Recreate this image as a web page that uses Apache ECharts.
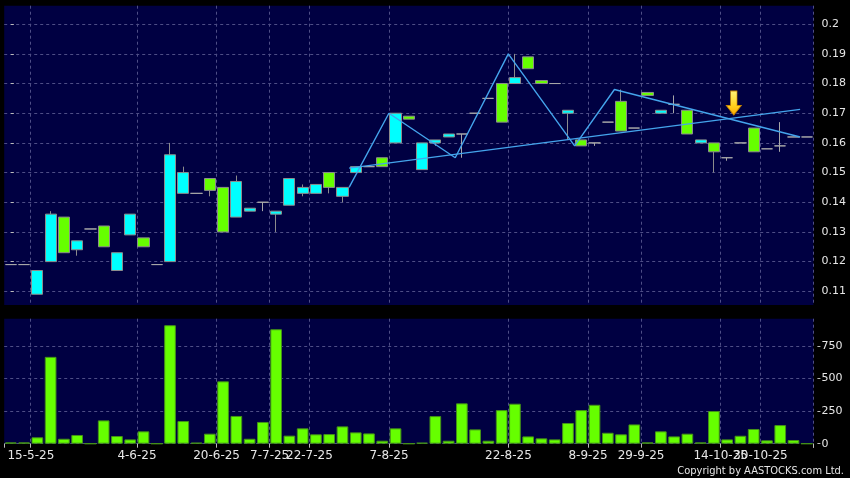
<!DOCTYPE html>
<html>
<head>
<meta charset="utf-8">
<title>K-line</title>
<script src="https://cdn.jsdelivr.net/npm/echarts@6.0.0/dist/echarts.min.js"></script>
<style>
  html, body { margin: 0; padding: 0; background: #000; }
  #chart { width: 850px; height: 478px; }
</style>
</head>
<body>
<div id="chart"></div>
<script>
// dates (one per candle, last slot is an empty day)
const dates = [
  '13-5-25', '14-5-25', '15-5-25', '16-5-25', '19-5-25', '21-5-25', '22-5-25', '26-5-25', '28-5-25', '30-5-25',
  '4-6-25', '5-6-25', '9-6-25', '11-6-25', '12-6-25', '16-6-25', '20-6-25', '24-6-25', '27-6-25', '2-7-25',
  '7-7-25', '10-7-25', '15-7-25', '22-7-25', '24-7-25', '28-7-25', '30-7-25', '1-8-25', '5-8-25', '7-8-25',
  '8-8-25', '11-8-25', '12-8-25', '14-8-25', '15-8-25', '18-8-25', '20-8-25', '21-8-25', '22-8-25', '26-8-25',
  '28-8-25', '1-9-25', '3-9-25', '5-9-25', '8-9-25', '12-9-25', '17-9-25', '23-9-25', '29-9-25', '3-10-25',
  '6-10-25', '9-10-25', '10-10-25', '13-10-25', '14-10-25', '20-10-25', '27-10-25', '30-10-25', '3-11-25', '5-11-25',
  '6-11-25'
];

const opens = [
  0.119, 0.119, 0.109, 0.120, 0.135, 0.124, 0.131, 0.132, 0.117, 0.129,
  0.128, 0.119, 0.120, 0.143, 0.143, 0.148, 0.145, 0.135, 0.137, 0.140,
  0.136, 0.139, 0.143, 0.143, 0.150, 0.142, 0.150, 0.152, 0.155, 0.160,
  0.169, 0.151, 0.160, 0.162, 0.163, 0.170, 0.175, 0.180, 0.180, 0.189,
  0.181, 0.180, 0.170, 0.161, 0.160, 0.167, 0.174, 0.165, 0.177, 0.170,
  0.173, 0.171, 0.160, 0.160, 0.155, 0.160, 0.165, 0.158, 0.159, 0.162,
  0.162
];
const closes = [
  0.119, 0.119, 0.117, 0.136, 0.123, 0.127, 0.131, 0.125, 0.123, 0.136,
  0.125, 0.119, 0.156, 0.150, 0.143, 0.144, 0.130, 0.147, 0.138, 0.140,
  0.137, 0.148, 0.145, 0.146, 0.145, 0.145, 0.152, 0.152, 0.152, 0.170,
  0.168, 0.160, 0.161, 0.163, 0.163, 0.170, 0.175, 0.167, 0.182, 0.185,
  0.180, 0.180, 0.171, 0.159, 0.160, 0.167, 0.164, 0.165, 0.176, 0.171,
  0.173, 0.163, 0.161, 0.157, 0.155, 0.160, 0.157, 0.158, 0.159, 0.162,
  0.162
];
const lows = [
  0.119, 0.119, 0.109, 0.120, 0.123, 0.122, 0.131, 0.125, 0.117, 0.129,
  0.125, 0.119, 0.120, 0.143, 0.143, 0.142, 0.130, 0.135, 0.137, 0.137,
  0.130, 0.139, 0.142, 0.143, 0.143, 0.140, 0.150, 0.152, 0.152, 0.160,
  0.168, 0.151, 0.159, 0.162, 0.155, 0.170, 0.175, 0.167, 0.180, 0.185,
  0.180, 0.180, 0.161, 0.159, 0.159, 0.167, 0.164, 0.165, 0.176, 0.170,
  0.170, 0.163, 0.160, 0.150, 0.154, 0.160, 0.157, 0.158, 0.157, 0.162,
  0.162
];
const highs = [
  0.119, 0.119, 0.117, 0.137, 0.135, 0.127, 0.131, 0.132, 0.123, 0.136,
  0.128, 0.119, 0.160, 0.152, 0.143, 0.148, 0.145, 0.149, 0.138, 0.140,
  0.137, 0.148, 0.146, 0.146, 0.150, 0.145, 0.152, 0.152, 0.155, 0.170,
  0.169, 0.160, 0.161, 0.163, 0.163, 0.170, 0.175, 0.180, 0.190, 0.189,
  0.181, 0.180, 0.171, 0.161, 0.160, 0.167, 0.178, 0.165, 0.177, 0.171,
  0.176, 0.171, 0.161, 0.160, 0.155, 0.160, 0.165, 0.158, 0.167, 0.162,
  0.162
];
// 成交量
const volumes = [
  10, 10, 49, 667, 38, 67, 0, 179, 59, 33,
  95, 0, 910, 174, 8, 77, 479, 213, 38, 167,
  879, 62, 118, 72, 74, 133, 87, 79, 23, 118,
  0, 8, 212, 23, 310, 110, 23, 258, 307, 56,
  41, 33, 159, 258, 299, 84, 72, 148, 10, 95,
  56, 77, 10, 251, 33, 61, 113, 26, 143, 28,
  0
];

// which dates get a label on the time axis
const labelIdx = [2, 10, 16, 20, 23, 29, 38, 44, 48, 54, 57];
const priceTicks = [0.11, 0.12, 0.13, 0.14, 0.15, 0.16, 0.17, 0.18, 0.19, 0.2];
const volumeTicks = [0, 250, 500, 750];

// drawn trend lines (x = candle position, y = price)
const zigzagX = [25.5, 28.5, 33.5, 37.5, 42.5, 45.5, 59.5];
const zigzagY = [0.145, 0.170, 0.155, 0.190, 0.159, 0.178, 0.162];
const supportX = [25.5, 59.5];
const supportY = [0.1515, 0.1713];
const arrowX = [54.5];
const arrowY = [0.1694];

const candles = dates.map((d, i) => [opens[i], closes[i], lows[i], highs[i]]);
const pair = (xs, ys) => xs.map((x, i) => [x, ys[i]]);
const lastLabel = labelIdx[labelIdx.length - 1];
const showLabel = (index) => labelIdx.indexOf(index) >= 0;
// the last label overlaps its neighbour, so it sits on its own axis
const showFirst = (index) => showLabel(index) && index !== lastLabel;
const showLast = (index) => index === lastLabel;

const gridLine = { show: true, interval: showLabel, lineStyle: { color: '#4e4e86', type: [3, 3], width: 1 } };
const ySplit = { show: true, lineStyle: { color: '#4e4e86', type: [3, 3], width: 1 } };
const font = 'DejaVu Sans';
const dateLabel = {
  show: true, hideOverlap: false, color: '#e6e6e6', fontSize: 12, fontFamily: font,
  margin: 6, padding: [0, 13, 0, 0]
};

const myChart = echarts.init(document.getElementById('chart'));
myChart.setOption({
  backgroundColor: '#000000',
  animation: false,
  grid: [
    { left: 4.2, right: 36.6, top: 5.7, height: 299.3, show: true, backgroundColor: '#000042', borderWidth: 0, outerBoundsMode: 'none' },
    { left: 4.2, right: 36.6, top: 318.7, height: 125, show: true, backgroundColor: '#000042', borderWidth: 0, outerBoundsMode: 'none' }
  ],
  xAxis: [
    {
      type: 'category', gridIndex: 0, data: dates, boundaryGap: true,
      axisLine: { show: false }, axisTick: { show: false, interval: showLabel },
      axisLabel: { show: false, interval: showLabel },
      splitLine: gridLine
    },
    {
      type: 'category', gridIndex: 1, position: 'bottom', data: dates, boundaryGap: true,
      axisLine: { show: false },
      axisTick: { show: true, interval: showFirst, length: 4, lineStyle: { color: '#bbbbbb' } },
      axisLabel: Object.assign({ interval: showFirst }, dateLabel),
      splitLine: gridLine
    },
    // 趋势线用的数值轴
    { type: 'value', gridIndex: 0, min: -0.5, max: 60.5, show: false },
    {
      type: 'category', gridIndex: 1, position: 'bottom', offset: 0, data: dates, boundaryGap: true,
      axisLine: { show: false },
      axisTick: { show: true, interval: showLast, length: 4, lineStyle: { color: '#bbbbbb' } },
      axisLabel: Object.assign({ interval: showLast }, dateLabel),
      splitLine: { show: false }
    }
  ],
  yAxis: [
    {
      type: 'value', gridIndex: 0, position: 'right', offset: 4,
      min: 0.10538, max: 0.20623, scale: true,
      axisLine: { show: false },
      axisTick: { show: true, length: 3, customValues: priceTicks, lineStyle: { color: '#bbbbbb' } },
      axisLabel: { customValues: priceTicks, color: '#e6e6e6', fontSize: 11, fontFamily: font, margin: 4 },
      splitLine: ySplit
    },
    {
      type: 'value', gridIndex: 1, position: 'right', offset: 4,
      min: 0, max: 960,
      axisLine: { show: false },
      axisTick: { show: true, length: 3, customValues: volumeTicks, lineStyle: { color: '#bbbbbb' } },
      axisLabel: { customValues: volumeTicks, color: '#e6e6e6', fontSize: 11, fontFamily: font, margin: 4 },
      splitLine: ySplit
    }
  ],
  graphic: [
    {
      type: 'text', right: 6, bottom: 1,
      style: { text: 'Copyright by AASTOCKS.com Ltd.', fill: '#e6e6e6', font: '11px "DejaVu Sans Condensed"' }
    }
  ],
  series: [
    {
      type: 'candlestick', xAxisIndex: 0, yAxisIndex: 0,
      data: candles, barWidth: '88%',
      itemStyle: {
        color: '#00ffff', color0: '#66ff00',
        borderColor: '#8c8c8c', borderColor0: '#8c8c8c', borderColorDoji: '#a8a8a8',
        borderWidth: 1
      }
    },
    {
      type: 'bar', xAxisIndex: 1, yAxisIndex: 1,
      data: volumes, barWidth: '88%',
      itemStyle: { color: '#66ff00', borderColor: '#459318', borderWidth: 1 }
    },
    {
      type: 'line', xAxisIndex: 2, yAxisIndex: 0, z: 5,
      data: pair(zigzagX, zigzagY), symbol: 'none',
      lineStyle: { color: '#44a4ec', width: 1.4 }
    },
    {
      type: 'line', xAxisIndex: 2, yAxisIndex: 0, z: 5,
      data: pair(supportX, supportY), symbol: 'none',
      lineStyle: { color: '#44a4ec', width: 1.4 }
    },
    {
      // 黄色箭头
      type: 'scatter', xAxisIndex: 2, yAxisIndex: 0, z: 6,
      data: pair(arrowX, arrowY),
      symbol: 'path://M4,0 L10,0 L10,14 L14,14 L7,23 L0,14 L4,14 Z',
      symbolSize: [15, 24], symbolOffset: [0, '-50%'],
      itemStyle: {
        opacity: 1,
        color: {
          type: 'linear', x: 0, y: 0, x2: 0, y2: 1,
          colorStops: [{ offset: 0, color: '#fff27a' }, { offset: 0.6, color: '#ffd21e' }, { offset: 1, color: '#ffa800' }]
        },
        borderColor: '#c88400', borderWidth: 0.8
      }
    }
  ]
});
</script>
</body>
</html>
